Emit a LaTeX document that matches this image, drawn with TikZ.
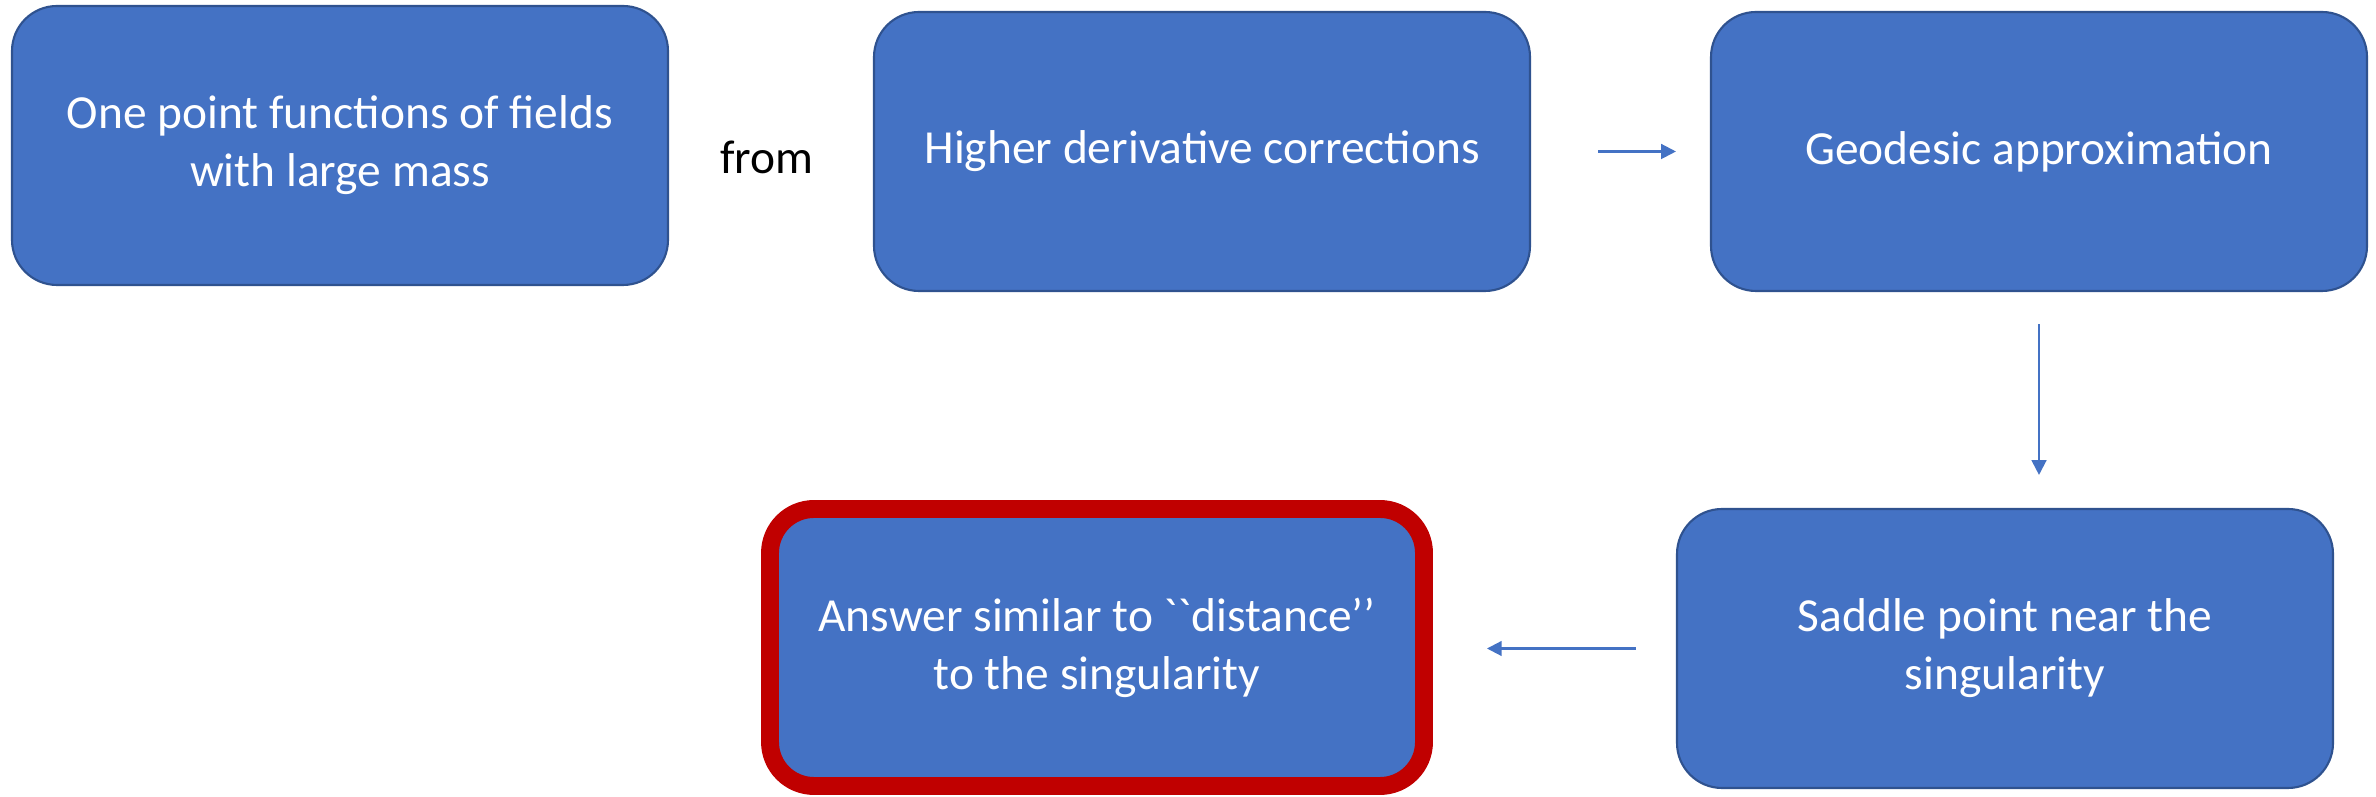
\documentclass[tikz,border=0pt]{standalone}
\usepackage{fontspec}
\setmainfont{Carlito}[Ligatures=TeXOff]
\usetikzlibrary{arrows.meta}
\definecolor{boxblue}{HTML}{4472C4}
\definecolor{boxedge}{HTML}{2F528F}
\definecolor{boxred}{HTML}{C00000}
\begin{document}
\begin{tikzpicture}[x=0.1mm,y=-0.1mm,
  box/.style={rectangle, rounded corners=4.5mm, fill=boxblue, draw=boxedge,
    line width=0.6pt, minimum width=65.6mm, minimum height=27.9mm,
    text=white, align=center, font=\fontsize{13.5}{16.5}\selectfont, inner sep=0pt},
  redbox/.style={box, draw=boxred, line width=5.1pt, minimum width=65.4mm,
    minimum height=27.7mm, rounded corners=4.4mm},
  arr/.style={draw=boxblue, line width=0.6pt, -{Triangle[length=4.2pt,width=4.2pt]}},
  plain/.style={font=\fontsize{13.5}{16}\selectfont, text=black, inner sep=0pt}
  ]
\useasboundingbox (0,0) rectangle (2376,797);
\node[box] (b1) at (340,145.5) {One point functions of fields\\with large mass};
\node[plain] (from) at (767,157) {from};
\node[box] (b2) at (1202,151.5) {Higher derivative corrections};
\node[box] (b3) at (2039,151.5) {Geodesic approximation};
\node[box] (b4) at (2005,648.5) {Saddle point near the\\singularity};
\node[redbox] (b5) at (1097,647.5) {Answer similar to ``distance’’\\to the singularity};
\draw[arr] ([xshift=6.7mm]b2.east) -- ([xshift=-3.4mm]b3.west);
\draw[arr] ([yshift=-3.2mm]b3.south) -- ([yshift=3.3mm]b3.south |- b4.north);
\draw[arr] ([xshift=-4.0mm]b4.west) -- ([xshift=5.4mm]b5.east |- b4.west);
\end{tikzpicture}
\end{document}
